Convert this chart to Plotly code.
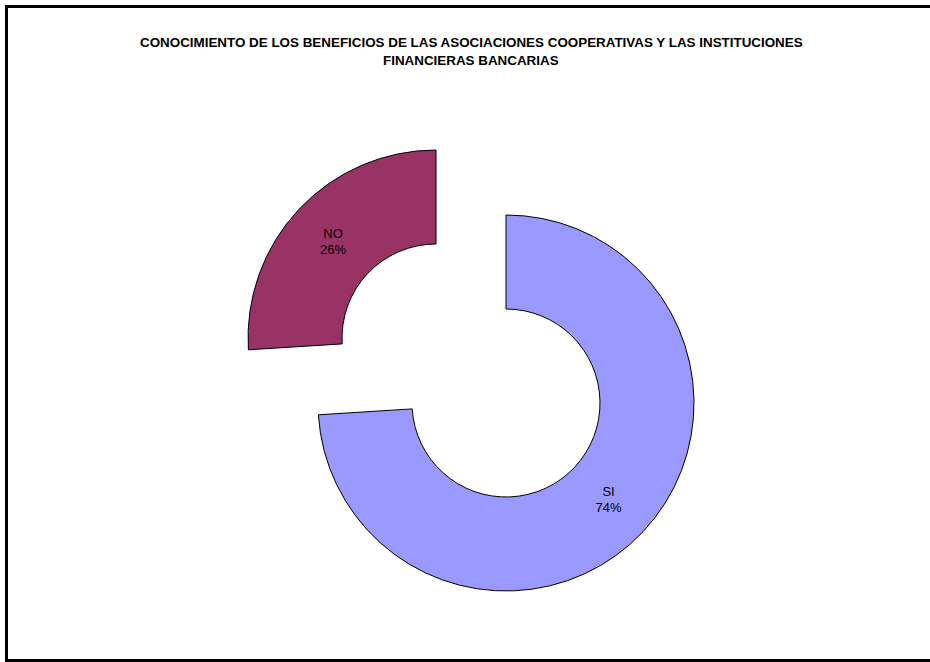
import plotly.graph_objects as go

# Survey answers and their shares
labels = ["SI", "NO"]
values = [74, 26]
colors = ["#9999FF", "#993366"]

title_lines = [
    "CONOCIMIENTO DE LOS BENEFICIOS DE LAS ASOCIACIONES COOPERATIVAS Y LAS INSTITUCIONES",
    "FINANCIERAS BANCARIAS",
]

W, H = 930, 662
R = 188  # ring outer radius in px

# ring centres: the NO slice is exploded out along its bisector
centres = {"SI": (506, 403), "NO": (436, 338)}

fig = go.Figure()

for idx, name in enumerate(labels):
    cx, cy = centres[name]
    fill = [c if i == idx else "rgba(0,0,0,0)" for i, c in enumerate(colors)]
    edge = ["#000000" if i == idx else "rgba(0,0,0,0)" for i in range(len(labels))]
    tmpl = ["%{label}<br>%{percent:.0%}" if i == idx else "" for i in range(len(labels))]
    fig.add_trace(go.Pie(
        labels=labels,
        values=values,
        hole=0.5,
        sort=False,
        direction="clockwise",
        rotation=0,
        marker=dict(colors=fill, line=dict(color=edge, width=1)),
        texttemplate=tmpl,
        textposition="inside",
        insidetextorientation="horizontal",
        insidetextfont=dict(family="Liberation Sans, Arial, sans-serif", size=13, color="#000000"),
        hoverinfo="skip",
        showlegend=False,
        domain=dict(
            x=[(cx - R) / W, (cx + R) / W],
            y=[1 - (cy + R) / H, 1 - (cy - R) / H],
        ),
    ))

# two-line bold title
for line, ypx in zip(title_lines, [42, 61]):
    fig.add_annotation(
        text=f"<b>{line}</b>",
        xref="paper", yref="paper",
        x=471 / W, y=1 - ypx / H,
        xanchor="center", yanchor="middle",
        showarrow=False,
        font=dict(family="Liberation Sans, Arial, sans-serif", size=13.4, color="#000000"),
    )

# chart frame
fig.add_shape(
    type="rect", xref="paper", yref="paper",
    x0=6.5 / W, x1=1.02, y0=1 - 660.5 / H, y1=1 - 6.5 / H,
    line=dict(color="#000000", width=3),
    fillcolor="rgba(0,0,0,0)",
)

fig.update_layout(
    width=W, height=H,
    margin=dict(l=0, r=0, t=0, b=0),
    paper_bgcolor="#FFFFFF",
    plot_bgcolor="#FFFFFF",
)

fig.write_html("out.html")
